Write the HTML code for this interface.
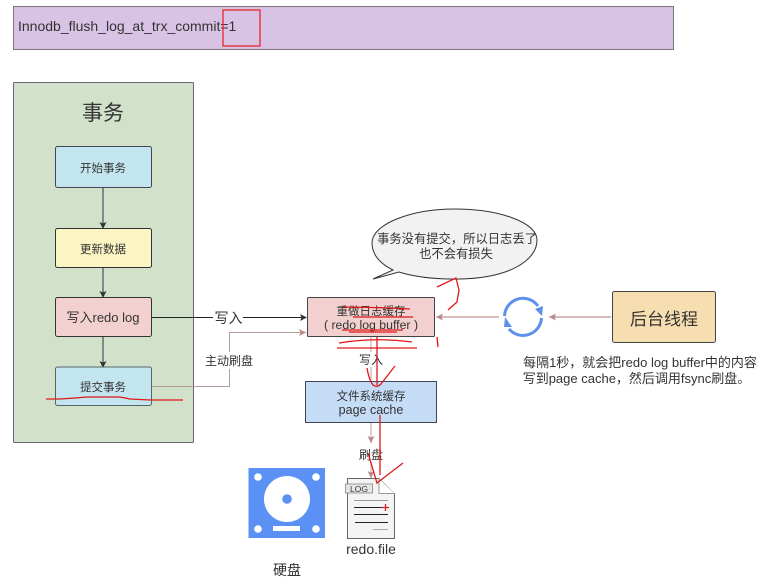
<!DOCTYPE html>
<html><head><meta charset="utf-8"><style>
html,body{margin:0;padding:0;background:#fff}
svg{display:block}
text{font-family:"Liberation Sans","Noto Sans CJK SC",sans-serif;fill:#333;text-anchor:middle}
</style></head><body>
<svg width="782" height="582" viewBox="0 0 782 582" xmlns="http://www.w3.org/2000/svg">
<defs>
<marker id="d" markerWidth="8" markerHeight="8" refX="6" refY="3.5" orient="auto" markerUnits="userSpaceOnUse"><path d="M0,0L7,3.5L0,7L1.5,3.5Z" fill="#333"/></marker>
<marker id="p" markerWidth="9" markerHeight="8" refX="7" refY="3.5" orient="auto" markerUnits="userSpaceOnUse"><path d="M0,0L7,3.5L0,7L1.5,3.5Z" fill="#b88"/></marker>
</defs>
<rect x="13.5" y="6.5" width="660" height="43" fill="#d9c3e4" stroke="#777"/>
<text x="18" y="31" font-size="14" style="text-anchor:start">Innodb_flush_log_at_trx_commit=1</text>
<rect x="223" y="10" width="37" height="36" fill="none" stroke="#e8262a" stroke-width="1.3"/>

<rect x="13.5" y="82.5" width="180" height="360" rx="1" fill="#d2e2ca" stroke="#667"/>
<text x="103" y="120" font-size="21">事务</text>

<line x1="103" y1="188" x2="103" y2="228" stroke="#334" marker-end="url(#d)"/>
<line x1="103" y1="267" x2="103" y2="297" stroke="#334" marker-end="url(#d)"/>
<line x1="103" y1="336" x2="103" y2="367" stroke="#334" marker-end="url(#d)"/>

<rect x="55.5" y="146.5" width="96" height="41" rx="2" fill="#c3e5ef" stroke="#445"/>
<text x="103" y="172" font-size="11.5">开始事务</text>
<rect x="55.5" y="228.5" width="96" height="39" rx="2" fill="#fbf5c4" stroke="#333"/>
<text x="103" y="253" font-size="11.5">更新数据</text>
<rect x="55.5" y="297.5" width="96" height="39" rx="2" fill="#f2d0d0" stroke="#333"/>
<text x="103" y="322" font-size="13">写入redo log</text>
<rect x="55.5" y="367" width="96" height="38.5" rx="2" fill="#c3e5ef" stroke="#566"/>
<text x="103" y="391" font-size="11.5">提交事务</text>

<line x1="152" y1="317.500" x2="306" y2="317.500" stroke="#222" marker-end="url(#d)"/>
<rect x="213" y="308" width="30" height="18" fill="#fff"/>
<text x="228.500" y="323" font-size="14">写入</text>
<path d="M152,386.500H229.500V332.500H306" fill="none" stroke="#b59a9a" marker-end="url(#p)"/>
<rect x="203" y="352" width="52" height="17" fill="#fff"/>
<text x="229" y="365" font-size="12">主动刷盘</text>

<path d="M373,279 L399,272 C424,280 465,281 490,276 C520,270 537,256 537,240 C537,222 498,209 455,209 C411,209 372,224 372,243 C372,255 381,264 393,270 Z" fill="#f2f2f2" stroke="#333"/>
<text x="457" y="243" font-size="12.300">事务没有提交，所以日志丢了</text>
<text x="456" y="258" font-size="12.300">也不会有损失</text>

<rect x="307.500" y="297.500" width="127" height="39" rx="1" fill="#f2d0d0" stroke="#444"/>
<text x="371" y="315" font-size="11.500">重做日志缓存</text>
<text x="371" y="329" font-size="12.300">( redo log buffer )</text>

<line x1="371" y1="337" x2="371" y2="380" stroke="#d8c0c0" stroke-width="1.500"/>
<rect x="358" y="352" width="26" height="15" fill="#fff"/>
<text x="371" y="364" font-size="12">写入</text>

<rect x="305.500" y="381.500" width="131" height="41" fill="#c5dcf6" stroke="#445"/>
<text x="371" y="400" font-size="11.500">文件系统缓存</text>
<text x="371" y="414" font-size="12.500">page cache</text>

<line x1="371" y1="423" x2="371" y2="443" stroke="#d8c0c0" stroke-width="1.500" marker-end="url(#p)"/>
<line x1="371" y1="462" x2="371" y2="478" stroke="#d8c0c0" stroke-width="1.500" marker-end="url(#p)"/>
<text x="371" y="459" font-size="12">刷盘</text>

<rect x="612.500" y="291.500" width="103" height="51" rx="2" fill="#f6deb0" stroke="#444"/>
<text x="664" y="325" font-size="17">后台线程</text>
<line x1="611" y1="317" x2="549" y2="317" stroke="#a77" marker-end="url(#p)"/>
<line x1="499" y1="317" x2="436" y2="317" stroke="#b77" marker-end="url(#p)"/>
<path d="M504.500,316A18.500,18.500 0 0 1 538,306M541.500,318A18.500,18.500 0 0 1 509,329" fill="none" stroke="#5b91ea" stroke-width="3"/>
<path d="M535,309L543,306L542,316Z M505,317L504,327L512,327Z" fill="#5b91ea"/>

<text x="640" y="367" font-size="13">每隔1秒，就会把redo log buffer中的内容</text>
<text x="636.500" y="383" font-size="13">写到page cache，然后调用fsync刷盘。</text>

<rect x="248.500" y="468" width="76.500" height="70" fill="#5b91f5"/>
<circle cx="258" cy="477" r="3.800" fill="#fff"/><circle cx="316" cy="477" r="3.800" fill="#fff"/>
<circle cx="258" cy="529" r="3.800" fill="#fff"/><circle cx="316" cy="529" r="3.800" fill="#fff"/>
<circle cx="287" cy="499" r="23" fill="#fff"/><circle cx="287" cy="499" r="4.800" fill="#5b91f5"/>
<rect x="273" y="526" width="27" height="5" fill="#fff"/>
<text x="287" y="575" font-size="14">硬盘</text>

<path d="M347.500,478.500H379L394.500,494V538.500H347.500Z" fill="#f4f4f4" stroke="#666"/>
<path d="M379,478.500V493.500H394.500" fill="#fff" stroke="#999"/>
<rect x="345.500" y="484" width="27" height="9" fill="#e6e6e6" stroke="#777" stroke-width=".7"/>
<text x="359" y="492" font-size="8.500">LOG</text>
<line x1="354" y1="500.500" x2="388" y2="500.500" stroke="#999"/>
<line x1="354" y1="507.500" x2="388" y2="507.500" stroke="#222"/>
<line x1="354" y1="514.500" x2="388" y2="514.500" stroke="#222"/>
<line x1="355" y1="522.500" x2="388" y2="522.500" stroke="#222"/>
<line x1="373" y1="529.500" x2="388" y2="529.500" stroke="#aaa"/>
<path d="M382,507.500H389M385.500,504V511" stroke="#d22" stroke-width="1.300"/>
<text x="371" y="554" font-size="14">redo.file</text>

<g fill="none" stroke="#e01818" stroke-width="1.300">
<path d="M46,399L60,399L75,398L87,397L120,397L130,399L150,400L183,400"/>
<path d="M437,287L456,278L459,290L457,302L448,310"/>
<path d="M343,307Q370,307 410,309M353,317H413M342,330H403M349,332H397"/>
<path d="M339,343Q373,337 412,342M337,348H417"/>
<path d="M437,337L438,347"/>
<path d="M377,337V385M367,368Q369,380 373,385Q377,388 381,384L395,366"/>
<path d="M380,415V475M368,453L377,483L403,463"/>
</g>
</svg>
</body></html>
